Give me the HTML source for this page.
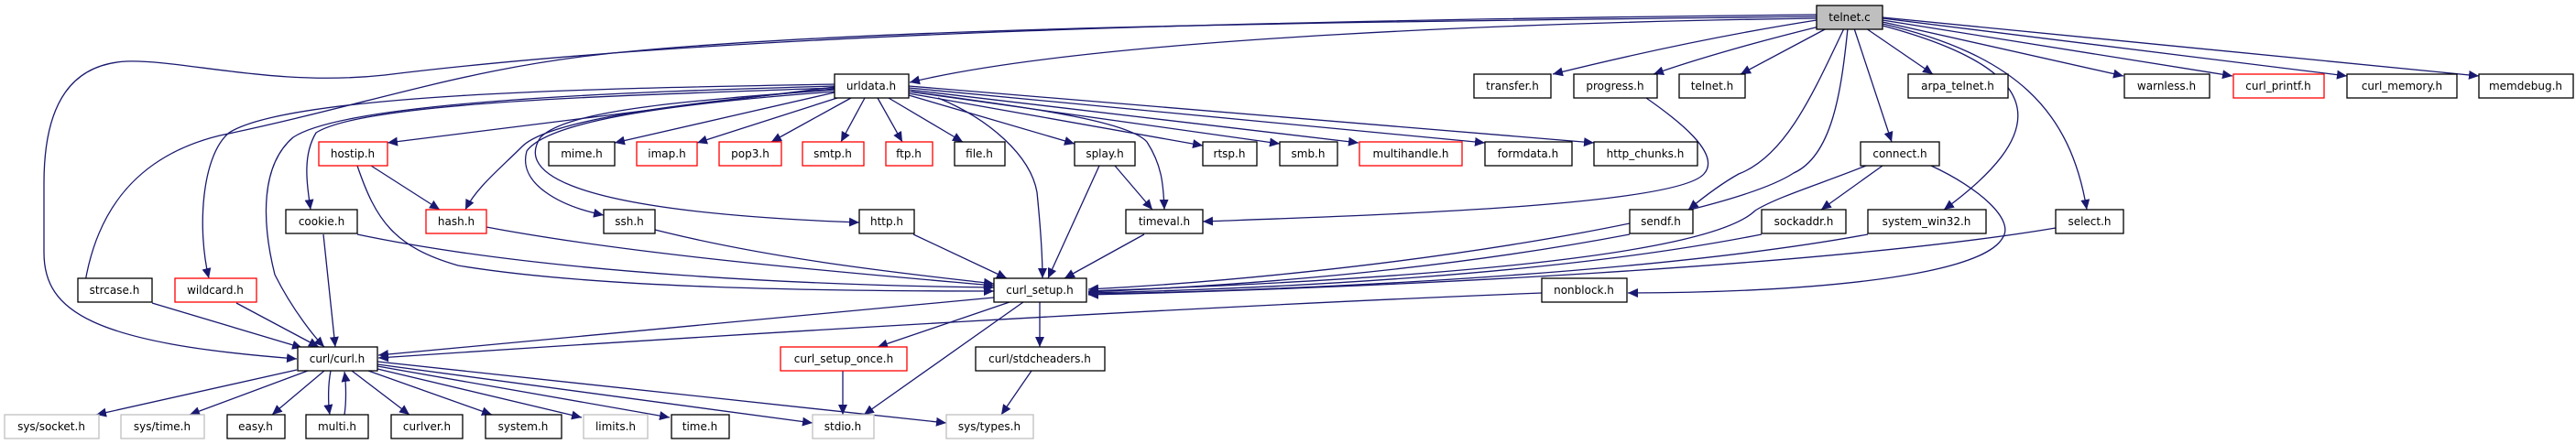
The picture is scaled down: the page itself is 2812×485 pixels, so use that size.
<!DOCTYPE html>
<html><head><meta charset="utf-8"><style>
html,body{margin:0;padding:0;background:#fff;width:2812px;height:485px;overflow:hidden}
svg{display:block}
text{font-family:"DejaVu Sans","Liberation Sans",sans-serif;font-size:12px;fill:#000;text-anchor:middle}
.e{fill:none;stroke:#191970;stroke-width:1.3}
</style></head><body>
<svg width="2812" height="485" viewBox="0 0 2812 485" xmlns="http://www.w3.org/2000/svg">
<defs><marker id="a" markerUnits="userSpaceOnUse" markerWidth="12" markerHeight="10" refX="11" refY="5" orient="auto"><path d="M0,0 L11,5 L0,10 z" fill="#191970"/></marker></defs>
<g class="e" marker-end="url(#a)">
<!-- telnet.c edges -->
<path d="M1983,20 C1700,24 1200,40 993,90"/>
<path d="M1983,18 C1500,24 1000,28 700,55 C520,70 420,110 240,148 C150,170 100,230 90,330"/>
<path d="M1983,16 C1400,22 800,35 420,82 C300,95 200,65 138,67 C80,70 48,110 48,200 L48,276 C48,340 100,375 324,392"/>
<path d="M1983,22 C1900,35 1800,55 1695,81"/>
<path d="M1990,28 C1920,45 1850,65 1805,81"/>
<path d="M1994,31 L1900,81"/>
<path d="M2037,31 L2110,81"/>
<path d="M2055,24 L2318,83"/>
<path d="M2055,22 L2437,83"/>
<path d="M2055,20 L2562,83"/>
<path d="M2055,19 L2706,83"/>
<path d="M2024,31 L2065,155"/>
<path d="M2055,26 C2200,60 2260,120 2278,229"/>
<path d="M2055,28 C2250,80 2230,150 2122,229"/>
<path d="M2013,31 C1980,100 1950,170 1898,190 C1880,200 1860,215 1843,229"/>
<path d="M2017,31 C2010,100 2000,170 1958,189 C1880,240 1500,300 1188,316"/>
<!-- progress -> timeval -->
<path d="M1797,107 C1830,130 1880,168 1860,190 C1830,225 1500,235 1313,242"/>
<!-- connect edges -->
<path d="M2055,181 L1988,229"/>
<path d="M2037,181 C1990,200 1940,215 1916,230 C1880,265 1700,300 1188,318"/>
<path d="M2108,181 C2160,205 2200,240 2186,260 C2160,305 1950,320 1777,320"/>
<!-- row3 -> curl_setup -->
<path d="M1779,256 C1600,290 1400,310 1188,319"/>
<path d="M1923,256 C1700,300 1400,315 1188,320"/>
<path d="M2039,256 C1800,300 1400,318 1188,321"/>
<path d="M2244,249 C2000,290 1500,315 1188,322"/>
<!-- urldata edges -->
<path d="M911,95 L423,156"/>
<path d="M911,101 L671,156"/>
<path d="M917,106 L761,156"/>
<path d="M929,107 L842,155"/>
<path d="M944,107 L918,155"/>
<path d="M958,107 L985,155"/>
<path d="M970,107 L1051,155"/>
<path d="M992,104 L1173,157"/>
<path d="M992,102 L1313,159"/>
<path d="M992,100 L1397,157"/>
<path d="M992,98 L1483,156"/>
<path d="M992,96 L1621,156"/>
<path d="M992,94 L1740,156"/>
<path d="M995,100 C1100,115 1230,130 1252,155 C1268,180 1270,200 1271,229"/>
<path d="M1024,107 C1080,130 1125,170 1132,210 C1136,250 1138,280 1138,304"/>
<path d="M911,98 C750,110 620,120 590,150 C570,180 585,230 938,243"/>
<path d="M911,100 C750,112 600,130 575,165 C565,200 610,225 659,235"/>
<path d="M911,97 C750,112 600,130 570,160 C545,185 520,205 508,229"/>
<path d="M911,96 C700,104 400,110 345,145 C330,170 335,200 339,229"/>
<path d="M911,94 C700,100 380,110 320,150 C285,180 285,240 300,300 C320,340 345,370 354,379"/>
<path d="M911,92 C700,96 320,100 250,145 C220,170 215,250 228,304"/>
<!-- hostip -->
<path d="M405,181 L480,229"/>
<path d="M390,181 C410,240 430,270 500,290 C650,315 900,318 1085,318"/>
<!-- row3 -> curl_setup/curl -->
<path d="M353,256 L366,379"/>
<path d="M390,256 C600,300 900,312 1085,314"/>
<path d="M531,248 C700,280 950,300 1085,312"/>
<path d="M715,251 C850,285 1000,300 1085,310"/>
<path d="M997,256 L1099,304"/>
<path d="M1200,181 L1144,304"/>
<path d="M1217,181 L1258,229"/>
<path d="M1249,256 L1162,304"/>
<path d="M166,331 L330,380"/>
<path d="M258,331 L348,379"/>
<path d="M1085,325 C800,350 600,370 413,388"/>
<path d="M1683,320 C1300,335 800,365 413,391"/>
<path d="M1102,330 L958,379"/>
<path d="M1135,330 L1135,379"/>
<path d="M1117,330 L943,453"/>
<path d="M920,405 L920,453"/>
<path d="M1126,405 L1093,453"/>
<!-- curl.h -->
<path d="M324,404 L105,453"/>
<path d="M336,405 L207,453"/>
<path d="M354,405 L297,453"/>
<path d="M361,405 C358,420 358,440 360,453"/>
<path d="M376,453 C378,440 378,420 376,406"/>
<path d="M384,405 L447,453"/>
<path d="M402,405 L537,453"/>
<path d="M412,403 L635,456"/>
<path d="M412,400 L731,456"/>
<path d="M412,398 L887,462"/>
<path d="M412,395 L1033,462"/>
</g>
<g stroke-width="1.3" fill="#fff">
<rect x="1983" y="6" width="72" height="26" fill="#bfbfbf" stroke="#000"/>
<g stroke="#000">
<rect x="911" y="81" width="81" height="26"/><rect x="1609" y="81" width="84" height="26"/><rect x="1718" y="81" width="91" height="26"/><rect x="1833" y="81" width="72" height="26"/><rect x="2083" y="81" width="109" height="26"/><rect x="2319" y="81" width="93" height="26"/><rect x="2562" y="81" width="120" height="26"/><rect x="2706" y="81" width="103" height="26"/>
<rect x="599" y="155" width="72" height="26"/><rect x="1042" y="155" width="55" height="26"/><rect x="1173" y="155" width="66" height="26"/><rect x="1313" y="155" width="59" height="26"/><rect x="1397" y="155" width="63" height="26"/><rect x="1621" y="155" width="95" height="26"/><rect x="1740" y="155" width="113" height="26"/><rect x="2031" y="155" width="86" height="26"/>
<rect x="312" y="229" width="78" height="26"/><rect x="659" y="229" width="56" height="26"/><rect x="938" y="229" width="60" height="26"/><rect x="1229" y="229" width="84" height="26"/><rect x="1779" y="229" width="69" height="26"/><rect x="1923" y="229" width="92" height="26"/><rect x="2039" y="229" width="129" height="26"/><rect x="2244" y="229" width="74" height="26"/>
<rect x="85" y="304" width="81" height="26"/><rect x="1085" y="304" width="101" height="26"/><rect x="1683" y="304" width="93" height="26"/>
<rect x="325" y="379" width="87" height="26"/><rect x="1065" y="379" width="141" height="26"/>
<rect x="248" y="453" width="63" height="26"/><rect x="334" y="453" width="68" height="26"/><rect x="427" y="453" width="78" height="26"/><rect x="530" y="453" width="83" height="26"/><rect x="733" y="453" width="63" height="26"/>
</g>
<g stroke="#ff0000">
<rect x="2438" y="81" width="99" height="26"/><rect x="348" y="155" width="75" height="26"/><rect x="695" y="155" width="66" height="26"/><rect x="785" y="155" width="68" height="26"/><rect x="876" y="155" width="67" height="26"/><rect x="967" y="155" width="51" height="26"/><rect x="1484" y="155" width="112" height="26"/><rect x="465" y="229" width="66" height="26"/><rect x="191" y="304" width="89" height="26"/><rect x="852" y="379" width="138" height="26"/>
</g>
<g stroke="#bfbfbf">
<rect x="5" y="453" width="103" height="26"/><rect x="132" y="453" width="91" height="26"/><rect x="637" y="453" width="70" height="26"/><rect x="887" y="453" width="67" height="26"/><rect x="1033" y="453" width="95" height="26"/>
</g>
</g>
<g>
<text x="2019" y="23">telnet.c</text>
<text x="951" y="98">urldata.h</text><text x="1651" y="98">transfer.h</text><text x="1763" y="98">progress.h</text><text x="1869" y="98">telnet.h</text><text x="2137" y="98">arpa_telnet.h</text><text x="2365" y="98">warnless.h</text><text x="2487" y="98">curl_printf.h</text><text x="2622" y="98">curl_memory.h</text><text x="2757" y="98">memdebug.h</text>
<text x="385" y="172">hostip.h</text><text x="635" y="172">mime.h</text><text x="728" y="172">imap.h</text><text x="819" y="172">pop3.h</text><text x="909" y="172">smtp.h</text><text x="992" y="172">ftp.h</text><text x="1069" y="172">file.h</text><text x="1206" y="172">splay.h</text><text x="1342" y="172">rtsp.h</text><text x="1428" y="172">smb.h</text><text x="1540" y="172">multihandle.h</text><text x="1668" y="172">formdata.h</text><text x="1796" y="172">http_chunks.h</text><text x="2074" y="172">connect.h</text>
<text x="351" y="246">cookie.h</text><text x="498" y="246">hash.h</text><text x="687" y="246">ssh.h</text><text x="968" y="246">http.h</text><text x="1271" y="246">timeval.h</text><text x="1813" y="246">sendf.h</text><text x="1969" y="246">sockaddr.h</text><text x="2103" y="246">system_win32.h</text><text x="2281" y="246">select.h</text>
<text x="125" y="321">strcase.h</text><text x="235" y="321">wildcard.h</text><text x="1135" y="321">curl_setup.h</text><text x="1729" y="321">nonblock.h</text>
<text x="368" y="396">curl/curl.h</text><text x="921" y="396">curl_setup_once.h</text><text x="1135" y="396">curl/stdcheaders.h</text>
<text x="56" y="470">sys/socket.h</text><text x="177" y="470">sys/time.h</text><text x="279" y="470">easy.h</text><text x="368" y="470">multi.h</text><text x="466" y="470">curlver.h</text><text x="571" y="470">system.h</text><text x="672" y="470">limits.h</text><text x="764" y="470">time.h</text><text x="920" y="470">stdio.h</text><text x="1080" y="470">sys/types.h</text>
</g>
</svg>
</body></html>
